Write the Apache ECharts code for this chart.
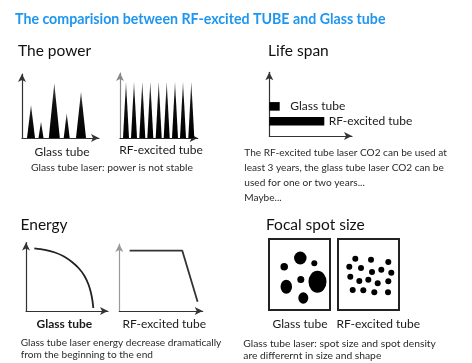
<!DOCTYPE html>
<html><head><meta charset="utf-8">
<script src="https://cdn.jsdelivr.net/npm/echarts@6/dist/echarts.min.js"></script>
<style>html,body{margin:0;padding:0;background:#fff}#c{width:472px;height:363px}</style>
</head><body><div id="c"></div>
<script>
// ---------- texts ----------
const chartTitle = 'The comparision between RF-excited TUBE and Glass tube';
const panelTitles = ['The power', 'Life span', 'Energy', 'Focal spot size'];
const tubeNames = ['Glass tube', 'RF-excited tube'];
const powerCaption = ['Glass tube laser: power is not stable'];
const lifeCaption = ['The RF-excited tube laser CO2 can be used at', 'least 3 years, the glass tube laser CO2 can be', 'used for one or two years...', 'Maybe...'];
const energyCaption = ['Glass tube laser energy decrease dramatically', 'from the beginning to the end'];
const spotCaption = ['Glass tube laser: spot size and spot density', 'are differernt in size and shape'];

// ---------- power pulses (position, height, base width) ----------
const glassPulseX = [9, 19, 32.3, 44.7, 59];
const glassPulseH = [33, 16.3, 54.7, 24.7, 46.3];
const glassPulseW = [8, 5, 11, 6, 10];
const rfPulseX = [6, 14, 22.3, 30.3, 38.7, 46.7, 55, 63, 71.3];
const rfPulseH = [56.3, 56.3, 56.3, 56.3, 56.3, 56.3, 56.3, 56.3, 56.3];
const rfPulseW = [6, 6, 6, 6, 6, 6, 6, 6, 6];

// ---------- life span ----------
const lifeTubes = ['Glass tube', 'RF-excited tube'];
const lifeValues = [10.4, 55];
const lifeLanes = [2, 1];

// ---------- energy curves ----------
const glassEnergyX = [8.3, 19, 29, 38, 46, 53, 58.5, 62.5, 65, 66.5, 67.3];
const glassEnergyY = [62.7, 61.2, 58.5, 54.5, 49, 42.5, 35, 26.5, 18, 10, 3];
const rfEnergyX = [10.3, 63, 78.3];
const rfEnergyY = [60.3, 60.3, 9.3];

// ---------- focal spots (x, y, width, height) ----------
const glassSpotX = [31.3, 45.3, 15.2, 31.8, 48.5, 17.3, 34.3];
const glassSpotY = [52, 46.7, 43.3, 30.5, 28.3, 23.3, 12];
const glassSpotW = [12.5, 6, 7.5, 7, 18, 11.5, 10];
const glassSpotH = [13, 6, 7.5, 7, 22, 14, 11.5];
const rfSpotX = [17.3, 33, 50.3, 11.3, 23, 34, 43.3, 53.3, 12.3, 21.3, 30.3, 39.7, 50.3, 14.7, 25.3, 36.3, 50];
const rfSpotY = [51.3, 50.3, 48, 43.3, 42, 38, 40.3, 37.3, 33.3, 29, 30.3, 26.7, 28.7, 20, 19.7, 17.7, 17.7];
const rfSpotW = [6, 6, 6, 6, 6, 6, 6, 6, 6, 6, 6, 6, 6, 6, 6, 6, 6];

// ---------- layout ----------
const FONT = 'Lato';
const grids = [
  {left: 22, top: 74, width: 77, height: 64},        // 0 glass power
  {left: 120, top: 73, width: 77.7, height: 65},     // 1 rf power
  {left: 269.3, top: 72.3, width: 82.7, height: 63.7}, // 2 life span
  {left: 26, top: 242.5, width: 82, height: 68.5},   // 3 glass energy
  {left: 119.3, top: 244, width: 83.4, height: 67},  // 4 rf energy
  {left: 269, top: 239, width: 61, height: 71, show: true, borderColor: '#222', borderWidth: 2, backgroundColor: '#fff'}, // 5
  {left: 338, top: 239, width: 61, height: 71, show: true, borderColor: '#222', borderWidth: 2, backgroundColor: '#fff'}  // 6
];
grids.forEach(g => { g.outerBoundsMode = 'none'; g.containLabel = false; });

function axis(i, max, color, showLine) {
  return {
    type: 'value', gridIndex: i, min: 0, max: max,
    axisLine: {show: showLine, lineStyle: {color: color, width: 1.2}, symbol: ['none', 'arrow'], symbolSize: [6, 8]},
    axisTick: {show: false}, axisLabel: {show: false}, splitLine: {show: false}
  };
}
const xAxes = [
  axis(0, 77, '#333', true), axis(1, 77.7, '#222', true), axis(2, 82.7, '#333', true),
  axis(3, 82, '#333', true), axis(4, 83.4, '#333', true), axis(5, 61, '#222', false), axis(6, 61, '#222', false)
];
const yAxes = [
  axis(0, 64, '#333', true), axis(1, 65, '#888', true), axis(2, 4.3, '#333', true),
  axis(3, 68.5, '#333', true), axis(4, 67, '#999', true), axis(5, 71, '#222', false), axis(6, 71, '#222', false)
];

const pulseFill = () => new echarts.graphic.LinearGradient(0, 0, 0, 1, [{offset: 0, color: '#555'}, {offset: 0.35, color: '#111'}, {offset: 1, color: '#000'}]);
function pulseRender(params, api) {
  const x = api.value(0), h = api.value(1), w = api.value(2);
  const l = api.coord([x - w / 2, 0]);
  const r = api.coord([x + w / 2, 0]);
  const t = api.coord([x, h]);
  return {type: 'polygon', shape: {points: [l, t, r]}, style: {fill: pulseFill()}};
}
const zip = (...arrs) => arrs[0].map((_, k) => arrs.map(a => a[k]));

const lifeGap = [10.5, 4.4];
function lifeRender(params, api) {
  const v = api.value(0), lane = api.value(1);
  const s = api.coord([0, lane]);
  const e = api.coord([v, lane]);
  const th = api.size([0, 0.58])[1];
  return {type: 'group', children: [
    {type: 'rect', shape: {x: s[0], y: s[1] - th / 2, width: e[0] - s[0], height: th}, style: {fill: '#000'}},
    {type: 'text', x: e[0] + lifeGap[params.dataIndex], y: e[1], style: {text: lifeTubes[params.dataIndex], fontFamily: FONT, fontSize: 12, fill: '#1a1a1a', verticalAlign: 'middle', align: 'left'}}
  ]};
}

function txt(text, x, y, size, o) {
  o = o || {};
  return {type: 'text', x: x, y: y, silent: true, style: {text: text, fontFamily: FONT, fontSize: size, fontWeight: o.w || 'normal', fill: o.c || '#1a1a1a', align: o.a || 'left', verticalAlign: 'middle'}};
}
function lines(arr, x, y0, lh, size) { return arr.map((t, k) => txt(t, x, y0 + k * lh, size, {c: '#2a2a2a'})); }

const graphics = [
  txt(chartTitle, 15, 19, 14.2, {w: 'bold', c: '#1e96ef'}),
  txt(panelTitles[0], 18, 51, 15.5, {c: '#111'}),
  txt(panelTitles[1], 268, 51, 15.5, {c: '#111'}),
  txt(panelTitles[2], 20.5, 225, 15.5, {c: '#111'}),
  txt(panelTitles[3], 266, 224.5, 15.5, {c: '#111'}),
  txt(tubeNames[0], 62, 152, 12, {a: 'center'}),
  txt(tubeNames[1], 161, 150.5, 12, {a: 'center'}),
  txt(tubeNames[0], 64.3, 324, 12, {a: 'center', w: 'bold'}),
  txt(tubeNames[1], 164.3, 324, 12, {a: 'center'}),
  txt(tubeNames[0], 300, 324.5, 12, {a: 'center'}),
  txt(tubeNames[1], 378.3, 324.5, 12, {a: 'center'})
].concat(lines(powerCaption, 31, 168, 15, 10.3))
 .concat(lines(lifeCaption, 244.3, 152.3, 15, 10.1))
 .concat(lines(energyCaption, 20.7, 342.7, 11.8, 10.1))
 .concat(lines(spotCaption, 243.3, 343.3, 12.7, 10.3));

const chart = echarts.init(document.getElementById('c'), null, {renderer: 'canvas'});
chart.setOption({
  animation: false,
  backgroundColor: '#fff',
  grid: grids,
  xAxis: xAxes,
  yAxis: yAxes,
  graphic: graphics,
  series: [
    {type: 'custom', xAxisIndex: 0, yAxisIndex: 0, renderItem: pulseRender, data: zip(glassPulseX, glassPulseH, glassPulseW), silent: true},
    {type: 'custom', xAxisIndex: 1, yAxisIndex: 1, renderItem: pulseRender, data: zip(rfPulseX, rfPulseH, rfPulseW), silent: true},
    {type: 'custom', xAxisIndex: 2, yAxisIndex: 2, renderItem: lifeRender, data: zip(lifeValues, lifeLanes), silent: true},
    {type: 'line', xAxisIndex: 3, yAxisIndex: 3, data: zip(glassEnergyX, glassEnergyY), smooth: 0.3, showSymbol: false, lineStyle: {color: '#222', width: 1.8}, silent: true},
    {type: 'line', xAxisIndex: 4, yAxisIndex: 4, data: zip(rfEnergyX, rfEnergyY), showSymbol: false, lineStyle: {color: '#333', width: 1.8}, silent: true},
    {type: 'scatter', xAxisIndex: 5, yAxisIndex: 5, data: zip(glassSpotX, glassSpotY, glassSpotW, glassSpotH), symbolSize: v => [v[2], v[3]], itemStyle: {color: '#000', opacity: 1}, silent: true},
    {type: 'scatter', xAxisIndex: 6, yAxisIndex: 6, data: zip(rfSpotX, rfSpotY, rfSpotW), symbolSize: v => [v[2], v[2]], itemStyle: {color: '#000', opacity: 1}, silent: true}
  ]
});
</script></body></html>
